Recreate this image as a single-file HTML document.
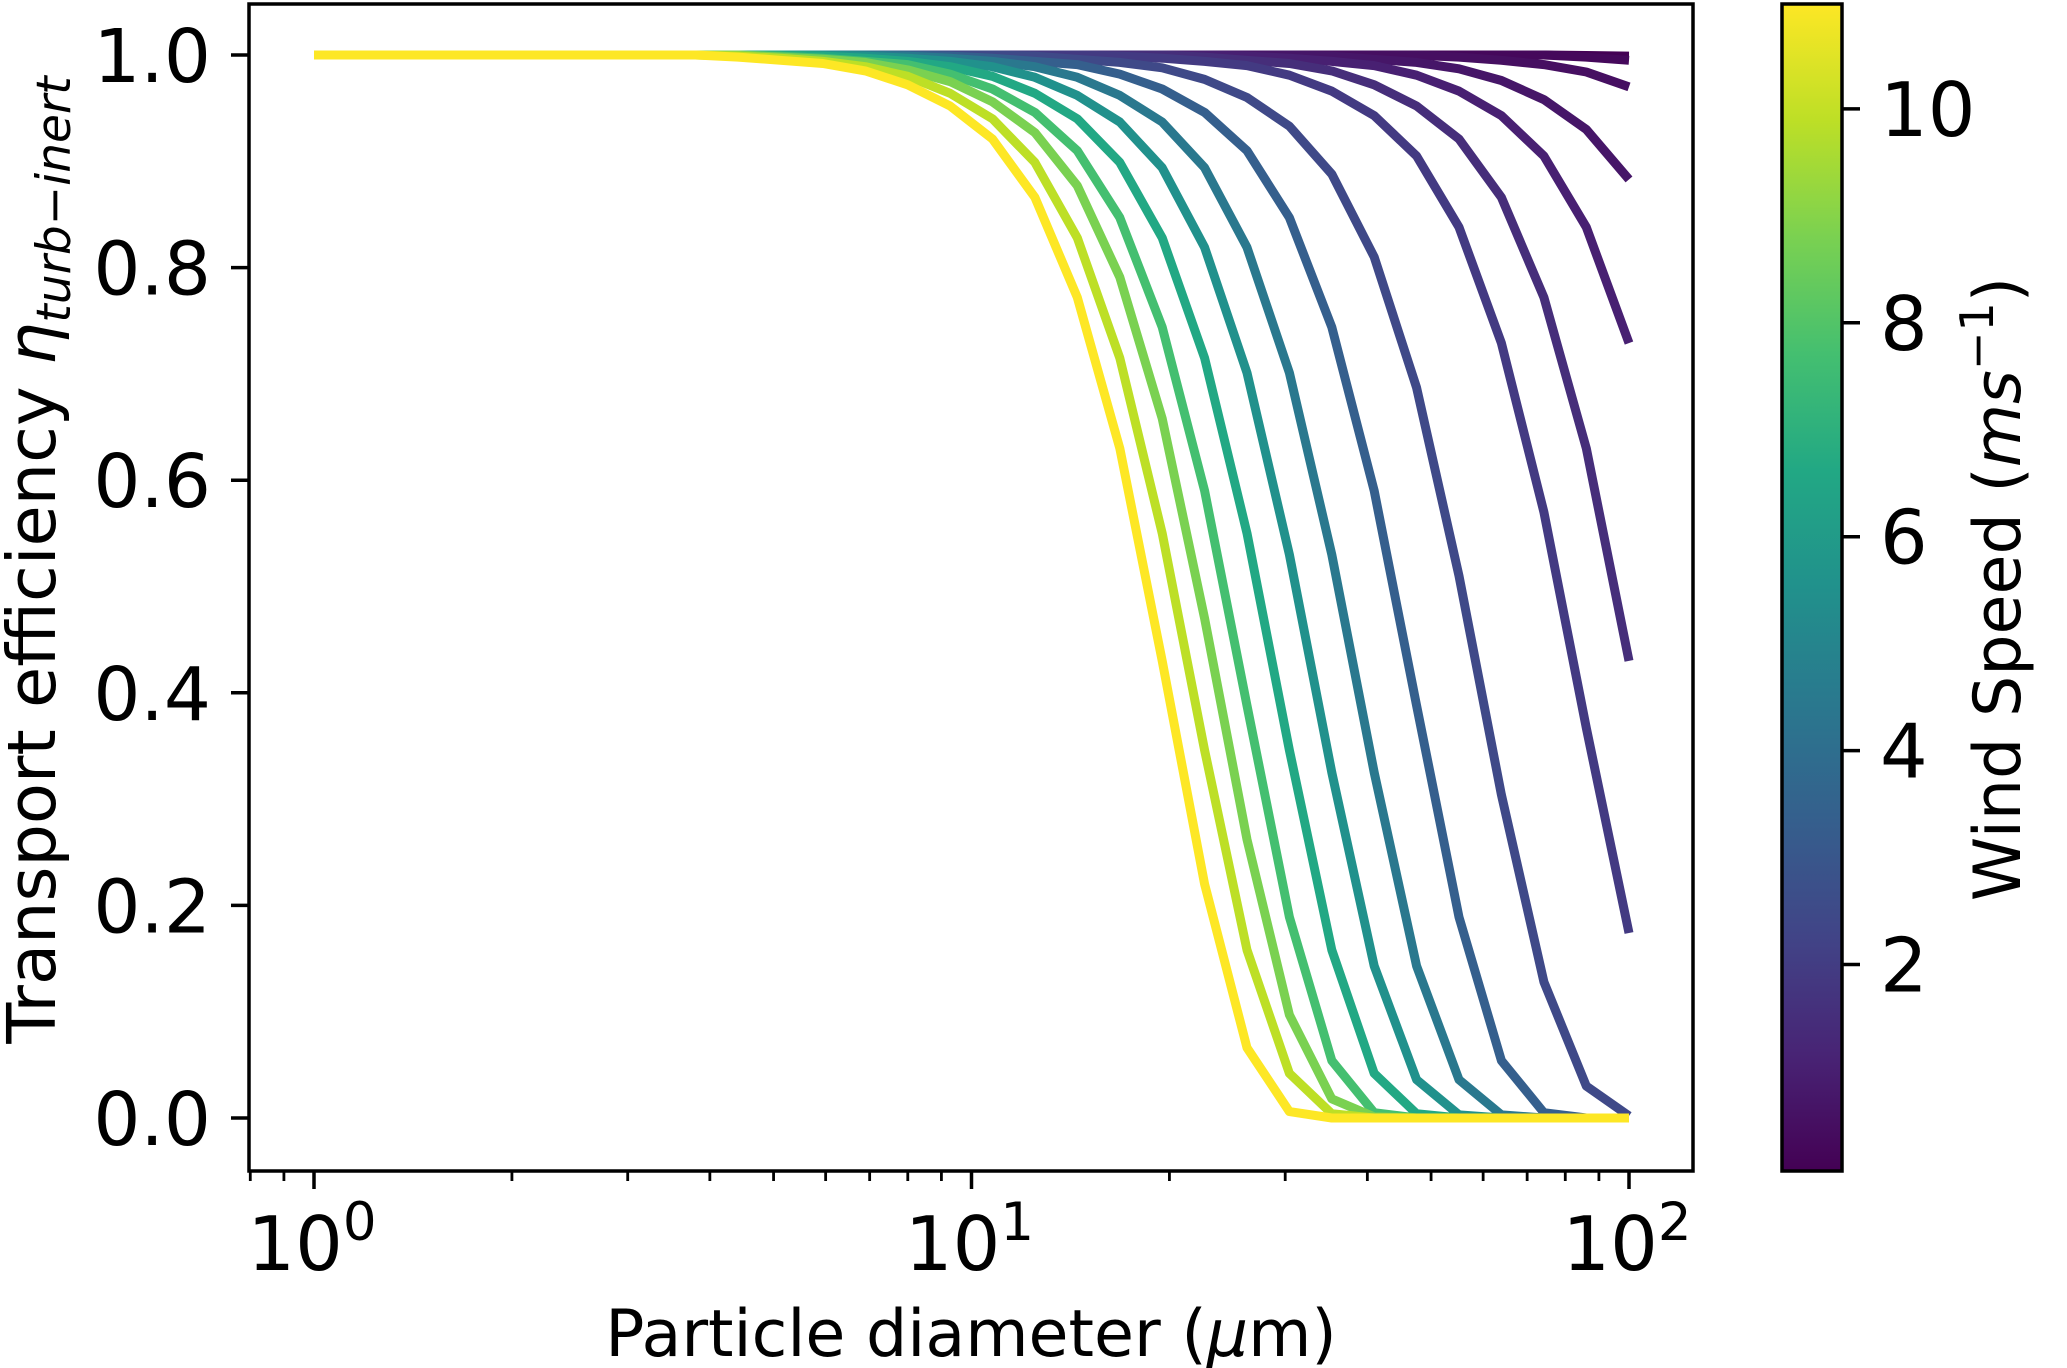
<!DOCTYPE html>
<html><head><meta charset="utf-8"><style>
html,body{margin:0;padding:0;background:#fff;}
svg{display:block;font-family:"DejaVu Sans","Liberation Sans",sans-serif;}
</style></head><body>
<svg id="chart" width="2067" height="1368" viewBox="0 0 2067 1368" xmlns="http://www.w3.org/2000/svg">
<defs>
<linearGradient id="viridis" x1="0" y1="1" x2="0" y2="0">
<stop offset="0" stop-color="#440154"/><stop offset="0.1" stop-color="#482475"/><stop offset="0.2" stop-color="#414487"/><stop offset="0.3" stop-color="#355f8d"/><stop offset="0.4" stop-color="#2a788e"/><stop offset="0.5" stop-color="#21918c"/><stop offset="0.6" stop-color="#22a884"/><stop offset="0.7" stop-color="#44bf70"/><stop offset="0.8" stop-color="#7ad151"/><stop offset="0.9" stop-color="#bddf26"/><stop offset="1" stop-color="#fde725"/>
</linearGradient>
<clipPath id="plotclip"><rect x="249" y="4" width="1444" height="1167"/></clipPath>
</defs>
<g id="lines" clip-path="url(#plotclip)"></g>
<rect x="249" y="4" width="1444" height="1167" fill="none" stroke="#000" stroke-width="3.5"/>
<g id="xticks"></g>
<g id="yticks"></g>
<text x="971" y="1356" font-size="65" text-anchor="middle">Particle diameter (<tspan font-style="italic">μ</tspan>m)</text>
<text transform="translate(55,560) rotate(-90)" font-size="67" text-anchor="middle">Transport efficiency <tspan font-style="italic">η</tspan><tspan font-style="italic" font-size="47" dy="15">turb−inert</tspan></text>
<rect x="1782" y="4" width="60" height="1167" fill="url(#viridis)" stroke="#000" stroke-width="3.5"/>
<g id="cbticks"></g>
<text transform="translate(2020,589) rotate(-90)" font-size="65" text-anchor="middle">Wind Speed (<tspan font-style="italic">ms</tspan><tspan font-size="46" dy="-27">−1</tspan><tspan dy="27">)</tspan></text>
</svg>
<script>
const diameters = [1,1.16,1.346,1.561,1.811,2.101,2.438,2.828,3.281,3.806,4.416,5.123,5.943,6.894,7.998,9.279,10.764,12.488,14.487,16.807,19.498,22.620,26.242,30.443,35.318,40.973,47.533,55.144,63.973,74.216,86.099,100];
const windSpeeds = [0.07,0.29,0.51,0.72,1.05,1.49,1.92,2.47,3.34,4.43,5.53,6.62,7.71,8.8,9.89,10.98];
const eta_u01 = [1,1,1,1,1,1,1,1,1,1,1,1,1,1,1,1,1,1,1,1,1,1,1,1,1,1,1,1,1,1,0.9995,0.999];
const eta_u03 = [1,1,1,1,1,1,1,1,1,1,1,1,1,1,1,1,1,1,1,1,1,1,1,1,1,1,1,1,1,1,0.998,0.995];
const eta_u05 = [1,1,1,1,1,1,1,1,1,1,1,1,1,1,1,1,1,1,1,1,1,1,1,1,1,1,0.9998,0.998,0.995,0.991,0.984,0.970];
const eta_u07 = [1,1,1,1,1,1,1,1,1,1,1,1,1,1,1,1,1,1,1,1,1,1,1,1,0.999,0.996,0.993,0.987,0.976,0.958,0.930,0.883];
const eta_u11 = [1,1,1,1,1,1,1,1,1,1,1,1,1,1,1,1,1,1,1,1,1,1,0.999,0.997,0.994,0.990,0.981,0.966,0.943,0.905,0.838,0.729];
const eta_u15 = [1,1,1,1,1,1,1,1,1,1,1,1,1,1,1,1,1,1,1,1,1,0.998,0.995,0.992,0.985,0.972,0.952,0.921,0.866,0.772,0.630,0.430];
const eta_u19 = [1,1,1,1,1,1,1,1,1,1,1,1,1,1,1,1,1,1,1,0.999,0.997,0.994,0.990,0.981,0.966,0.943,0.905,0.838,0.729,0.570,0.367,0.174];
const eta_u25 = [1,1,1,1,1,1,1,1,1,1,1,1,1,1,1,1,1,0.999,0.996,0.993,0.988,0.977,0.960,0.933,0.888,0.810,0.687,0.510,0.304,0.128,0.030,0.002];
const eta_u33 = [1,1,1,1,1,1,1,1,1,1,1,1,1,1,1,0.999,0.997,0.994,0.991,0.982,0.968,0.946,0.910,0.847,0.744,0.590,0.388,0.189,0.054,0.005,0,0];
const eta_u44 = [1,1,1,1,1,1,1,1,1,1,1,1,1,1,0.999,0.997,0.994,0.989,0.979,0.962,0.937,0.894,0.819,0.701,0.530,0.325,0.143,0.036,0.003,0,0,0];
const eta_u55 = [1,1,1,1,1,1,1,1,1,1,1,1,1,0.999,0.997,0.994,0.989,0.979,0.962,0.937,0.894,0.819,0.701,0.530,0.325,0.143,0.036,0.003,0,0,0,0];
const eta_u66 = [1,1,1,1,1,1,1,1,1,1,1,1,0.999,0.997,0.994,0.989,0.980,0.964,0.940,0.899,0.828,0.715,0.550,0.346,0.158,0.042,0.004,0,0,0,0,0];
const eta_u77 = [1,1,1,1,1,1,1,1,1,1,1,0.999,0.997,0.994,0.991,0.982,0.968,0.946,0.910,0.847,0.744,0.590,0.388,0.189,0.054,0.005,0,0,0,0,0,0];
const eta_u88 = [1,1,1,1,1,1,1,1,1,1,1,0.998,0.996,0.993,0.986,0.975,0.956,0.927,0.877,0.791,0.658,0.470,0.262,0.097,0.018,0.001,0,0,0,0,0,0];
const eta_u99 = [1,1,1,1,1,1,1,1,1,1,0.999,0.997,0.994,0.989,0.980,0.964,0.940,0.899,0.828,0.715,0.550,0.346,0.158,0.042,0.004,0,0,0,0,0,0,0];
const eta_u110 = [1,1,1,1,1,1,1,1,1,1,0.998,0.995,0.992,0.985,0.972,0.952,0.921,0.866,0.772,0.630,0.430,0.220,0.066,0.006,0,0,0,0,0,0,0,0];
const seriesValues = [eta_u01,eta_u03,eta_u05,eta_u07,eta_u11,eta_u15,eta_u19,eta_u25,eta_u33,eta_u44,eta_u55,eta_u66,eta_u77,eta_u88,eta_u99,eta_u110];
const yTickValues = [0,0.2,0.4,0.6,0.8,1.0];
const yTickLabels = ["0.0","0.2","0.4","0.6","0.8","1.0"];
const xMajorValues = [1,10,100];
const xMajorExponents = ["0","1","2"];
const xMinorValues = [0.8,0.9,2,3,4,5,6,7,8,9,20,30,40,50,60,70,80,90];
const cbTickValues = [2,4,6,8,10];
const cbTickLabels = ["2","4","6","8","10"];
const cbMin = 0.07, cbMax = 10.98;

const NS = "http://www.w3.org/2000/svg";
function xScale(d){ return 314 + 657.5*Math.log10(d); }
function yScale(v){ return 1118 - 1063*v; }
function cbScale(u){ return 1171 - 1167*(u-cbMin)/(cbMax-cbMin); }
const VIR = ["#440154","#482475","#414487","#355f8d","#2a788e","#21918c","#22a884","#44bf70","#7ad151","#bddf26","#fde725"];
function hex(c){ return [parseInt(c.slice(1,3),16),parseInt(c.slice(3,5),16),parseInt(c.slice(5,7),16)]; }
function viridis(t){
  t=Math.max(0,Math.min(1,t)); const p=t*10, i=Math.min(9,Math.floor(p)), f=p-i;
  const a=hex(VIR[i]), b=hex(VIR[i+1]);
  return "rgb("+a.map((v,k)=>Math.round(v+(b[k]-v)*f)).join(",")+")";
}
function mk(tag, parent){ const e=document.createElementNS(NS,tag); parent.appendChild(e); return e; }

const gl = document.getElementById("lines");
seriesValues.forEach((vals, si) => {
  const p = mk("polyline", gl);
  
  
  p.setAttribute("points", vals.map((v,i)=>xScale(diameters[i]).toFixed(1)+","+yScale(v).toFixed(1)).join(" "));
  p.setAttribute("fill","none");
  p.setAttribute("stroke", viridis((windSpeeds[si]-cbMin)/(cbMax-cbMin)));
  p.setAttribute("stroke-width","9");
  p.setAttribute("stroke-linejoin","round");
});

const gx = document.getElementById("xticks");
xMajorValues.forEach((d,i)=>{
  const x = xScale(d);
  const t = mk("line", gx);
  
  
  t.setAttribute("x1",x); t.setAttribute("x2",x); t.setAttribute("y1",1171); t.setAttribute("y2",1189);
  t.setAttribute("stroke","#000"); t.setAttribute("stroke-width","3.5");
  const lb = mk("text", gx);
  
  
  lb.setAttribute("x", x-2); lb.setAttribute("y", 1270); lb.setAttribute("font-size","75"); lb.setAttribute("text-anchor","middle");
  lb.textContent = "10";
  const sp = document.createElementNS(NS,"tspan");
  sp.setAttribute("font-size","53"); sp.setAttribute("dy","-30");
  sp.textContent = xMajorExponents[i];
  lb.appendChild(sp);
});
xMinorValues.forEach(d=>{
  const x = xScale(d);
  const t = mk("line", gx);
  
  
  t.setAttribute("x1",x); t.setAttribute("x2",x); t.setAttribute("y1",1171); t.setAttribute("y2",1181);
  t.setAttribute("stroke","#000"); t.setAttribute("stroke-width","2.8");
});

const gy = document.getElementById("yticks");
yTickValues.forEach((v,i)=>{
  const y = yScale(v);
  const t = mk("line", gy);
  
  
  t.setAttribute("x1",231); t.setAttribute("x2",249); t.setAttribute("y1",y); t.setAttribute("y2",y);
  t.setAttribute("stroke","#000"); t.setAttribute("stroke-width","3.5");
  const lb = mk("text", gy);
  
  
  lb.setAttribute("x", 211); lb.setAttribute("y", y+27); lb.setAttribute("font-size","74"); lb.setAttribute("text-anchor","end");
  lb.textContent = yTickLabels[i];
});

const gc = document.getElementById("cbticks");
cbTickValues.forEach((u,i)=>{
  const y = cbScale(u);
  const t = mk("line", gc);
  
  
  t.setAttribute("x1",1842); t.setAttribute("x2",1860); t.setAttribute("y1",y); t.setAttribute("y2",y);
  t.setAttribute("stroke","#000"); t.setAttribute("stroke-width","3.5");
  const lb = mk("text", gc);
  
  
  lb.setAttribute("x", 1880); lb.setAttribute("y", y+27); lb.setAttribute("font-size","75");
  lb.textContent = cbTickLabels[i];
});
</script>
</body></html>
